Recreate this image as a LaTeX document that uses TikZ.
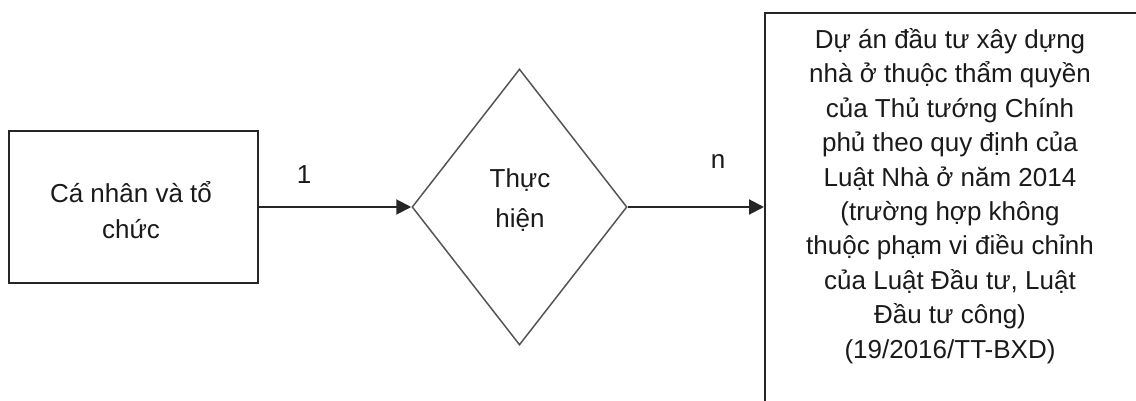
\documentclass[tikz,border=0pt]{standalone}
\usepackage{fontspec}
\setmainfont{Liberation Sans}
\usetikzlibrary{shapes.geometric,arrows.meta}
\definecolor{txt}{HTML}{1A1A1A}
\definecolor{dgray}{HTML}{555555}
\tikzset{
  boxstyle/.style={draw=black!85, line width=1.8pt, rectangle, inner sep=0pt},
  diastyle/.style={draw=dgray, line width=1.5pt, diamond, inner sep=0pt},
  arr/.style={draw=black!85, line width=2pt, -{Triangle[length=15pt,width=15pt]}},
  lbl/.style={text=txt, font=\fontsize{26}{34.4}\selectfont, align=center, inner sep=0pt},
}
\begin{document}
\begin{tikzpicture}[x=1pt,y=-1pt]
\useasboundingbox (0,0) rectangle (1136,401);
\clip (0,0) rectangle (1136,401);
\node[boxstyle, minimum width=249pt, minimum height=152pt] (a) at (133.5,207) {};
\node[lbl, font=\fontsize{26}{36}\selectfont] (at) at (131,210) {Cá nhân và tổ\\chức};
\node[diastyle, minimum width=215pt, minimum height=276pt] (d) at (519.5,207) {};
\node[lbl, font=\fontsize{26}{40}\selectfont] (dt) at (520,200) {Thực\\hiện};
\node[boxstyle, minimum width=380pt, minimum height=420pt, anchor=north west] (r) at (764,12) {};
\node[lbl] (rt) at (950,196) {Dự án đầu tư xây dựng\\nhà ở thuộc thẩm quyền\\của Thủ tướng Chính\\phủ theo quy định của\\Luật Nhà ở năm 2014\\(trường hợp không\\thuộc phạm vi điều chỉnh\\của Luật Đầu tư, Luật\\Đầu tư công)\\(19/2016/TT-BXD)};
\draw[arr] (a.east |- d.west) -- (d.west);
\draw[arr] (d.east) -- (d.east -| r.west);
\node[lbl] (one) at (304,175) {1};
\node[lbl] (n) at (718,162) {n};
\end{tikzpicture}
\end{document}
